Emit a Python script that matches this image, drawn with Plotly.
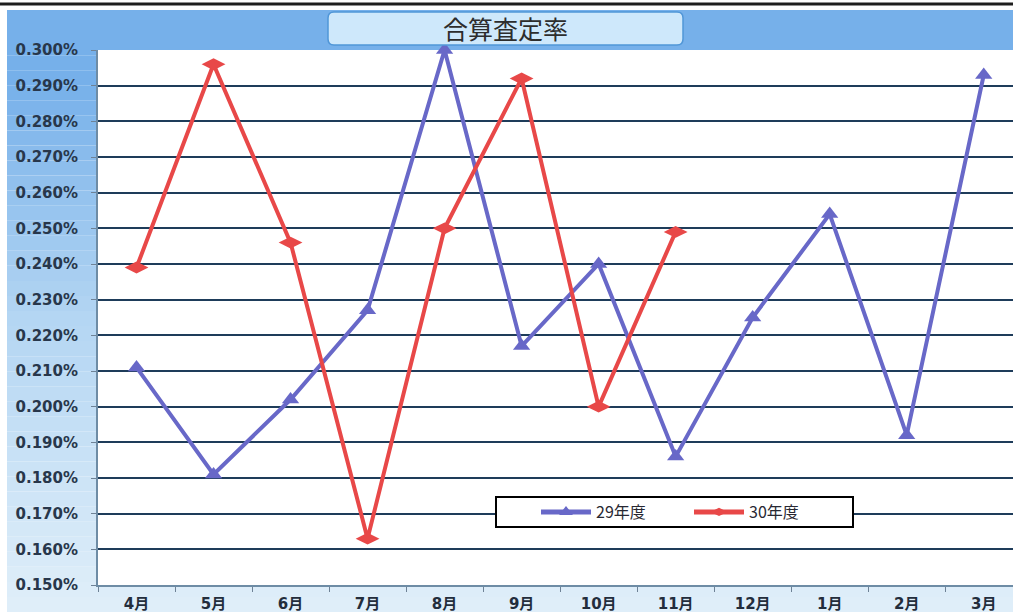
import plotly.graph_objects as go

months = ["4月", "5月", "6月", "7月", "8月", "9月", "10月", "11月", "12月", "1月", "2月", "3月"]
fy29 = [0.211, 0.181, 0.202, 0.227, 0.300, 0.217, 0.240, 0.186, 0.225, 0.254, 0.192, 0.293]
fy30 = [0.239, 0.296, 0.246, 0.163, 0.250, 0.292, 0.200, 0.249]
yticks = [0.150 + 0.010 * i for i in range(16)]
title_text = "合算査定率"

W, H = 1013, 612
L, R, T, B = 98, 0, 50, 27
PW, PH = W - L - R, H - T - B

def px(x):
    return (x - L) / PW

def py(y):
    return (H - B - y) / PH

FONT = "DejaVu Sans, Noto Sans CJK JP, sans-serif"
CJK = "Noto Sans CJK JP, sans-serif"
BLUE = "rgb(104,104,200)"
RED = "rgb(232,72,72)"

fig = go.Figure()
fig.add_trace(go.Scatter(
    x=months, y=fy29, name="29年度", mode="lines+markers",
    line=dict(color=BLUE, width=4),
    marker=dict(symbol="triangle-up", size=15, color=BLUE),
))
fig.add_trace(go.Scatter(
    x=months[:len(fy30)], y=fy30, name="30年度", mode="lines+markers",
    line=dict(color=RED, width=4),
    marker=dict(symbol="diamond-wide", size=17, color=RED),
))

shapes = []
# background gradient strips (outer chart area)
top_c = (118, 176, 234)
mid_c = (180, 214, 243)
bot_c = (226, 240, 250)
n = 40
y0 = 10
for i in range(n):
    ya = y0 + (H - y0) * i / n
    yb = y0 + (H - y0) * (i + 1) / n
    t = (ya - y0) / (H - y0)
    if t < 0.1:
        c = top_c
    elif t < 0.5:
        f = (t - 0.1) / 0.4
        c = tuple(int(top_c[k] + (mid_c[k] - top_c[k]) * f) for k in range(3))
    else:
        f = (t - 0.5) / 0.5
        c = tuple(int(mid_c[k] + (bot_c[k] - mid_c[k]) * f) for k in range(3))
    shapes.append(dict(type="rect", xref="paper", yref="paper",
                       x0=px(7), x1=px(W), y0=py(yb), y1=py(ya),
                       fillcolor="rgb(%d,%d,%d)" % c, line=dict(width=0), layer="below"))
# white plot area
shapes.append(dict(type="rect", xref="paper", yref="paper", x0=0, x1=1, y0=0, y1=1,
                   fillcolor="white", line=dict(width=0), layer="below"))
# top scan border line
shapes.append(dict(type="line", xref="paper", yref="paper", x0=px(0), x1=px(W),
                   y0=py(4), y1=py(4), line=dict(color="rgb(30,30,30)", width=3)))

# rounded title box
def rrect(x0, y0, x1, y1, r):
    pts = [
        f"M {px(x0 + r)},{py(y0)}",
        f"L {px(x1 - r)},{py(y0)}",
        f"Q {px(x1)},{py(y0)} {px(x1)},{py(y0 + r)}",
        f"L {px(x1)},{py(y1 - r)}",
        f"Q {px(x1)},{py(y1)} {px(x1 - r)},{py(y1)}",
        f"L {px(x0 + r)},{py(y1)}",
        f"Q {px(x0)},{py(y1)} {px(x0)},{py(y1 - r)}",
        f"L {px(x0)},{py(y0 + r)}",
        f"Q {px(x0)},{py(y0)} {px(x0 + r)},{py(y0)}",
        "Z",
    ]
    return " ".join(pts)

shapes.append(dict(type="path", xref="paper", yref="paper", path=rrect(328, 12, 683, 45, 6),
                   fillcolor="rgb(206,232,251)", line=dict(color="rgb(80,150,215)", width=1.5)))
# legend box
shapes.append(dict(type="rect", xref="paper", yref="paper",
                   x0=px(496), x1=px(853), y0=py(527), y1=py(497),
                   fillcolor="white", line=dict(color="black", width=2), layer="above"))

fig.update_layout(
    width=W, height=H,
    margin=dict(l=L, r=R, t=T, b=B),
    paper_bgcolor="white",
    plot_bgcolor="white",
    shapes=shapes,
    showlegend=True,
    legend=dict(
        orientation="h", x=px(536), y=py(512), xanchor="left", yanchor="middle",
        bgcolor="rgba(0,0,0,0)", borderwidth=0,
        font=dict(family=CJK, size=16, color="rgb(40,40,50)"),
        entrywidth=88, entrywidthmode="pixels", itemwidth=50,
        itemsizing="constant",
    ),
    annotations=[dict(
        text=title_text, xref="paper", yref="paper", x=px(505), y=py(28),
        xanchor="center", yanchor="middle", showarrow=False,
        font=dict(family=CJK, size=25, color="rgb(45,45,45)"),
    )],
    xaxis=dict(
        type="category", range=[-0.5, 11.38],
        tickson="boundaries", ticks="outside", ticklen=5, tickcolor="rgb(110,130,150)",
        showline=True, linecolor="rgb(110,140,165)", linewidth=2,
        showgrid=False, zeroline=False, ticklabelstandoff=4,
        tickfont=dict(family=FONT, size=15, color="rgb(35,45,60)", weight="bold"),
    ),
    yaxis=dict(
        range=[0.150, 0.300], tickvals=yticks,
        ticktext=["%.3f%%" % v for v in yticks],
        ticks="outside", ticklen=5, tickcolor="rgb(110,130,150)",
        showline=True, linecolor="rgb(110,140,165)", linewidth=2,
        showgrid=True, gridcolor="rgb(30,60,90)", gridwidth=1.5,
        zeroline=False, ticklabelstandoff=10,
        tickfont=dict(family=FONT, size=15, color="rgb(40,55,75)", weight="bold"),
    ),
)
fig.update_traces(cliponaxis=False)

fig.write_html("out.html")
